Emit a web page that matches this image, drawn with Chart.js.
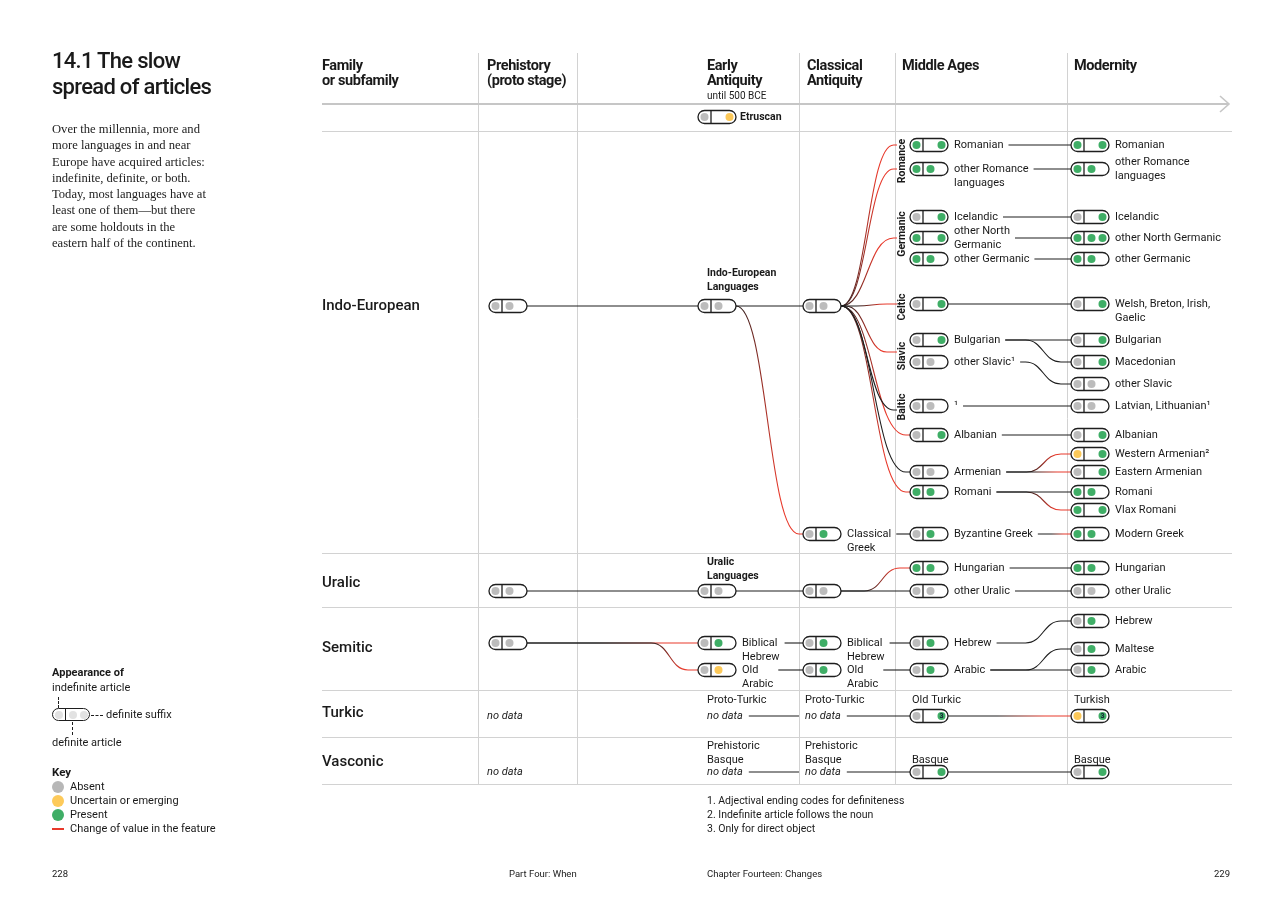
<!DOCTYPE html>
<html lang="en">
<head>
  <meta charset="UTF-8" />
  <title>14.1 The slow spread of articles</title>
  <script src="https://cdn.jsdelivr.net/npm/chart.js"></script>
  <style>
    html, body { margin: 0; padding: 0; background: #fff; }
    body {
      width: 1284px; height: 914px; position: relative; overflow: hidden;
      font-family: Roboto, 'Liberation Sans', sans-serif; color: #1a1a1a;
    }
    #chart { position: absolute; left: 0; top: 0; }
    .abs { position: absolute; white-space: nowrap; }
    h1 {
      position: absolute; left: 52px; top: 48px; margin: 0;
      font-size: 22px; line-height: 26px; font-weight: 500; letter-spacing: -0.7px;
    }
    #intro {
      left: 52px; top: 121px; font-family: 'Liberation Serif', serif;
      font-size: 12.6px; line-height: 16.3px; color: #222;
    }
    .small { font-size: 11px; line-height: 14px; }
    .bold { font-weight: 700; }
    .pill {
      position: absolute; width: 36px; height: 11px; border: 1.2px solid #1e1e1e;
      border-radius: 7px; background: #fff;
    }
    .pill .bar { position: absolute; left: 12px; top: 0; width: 1.2px; height: 11px; background: #1e1e1e; }
    .pill .dot { position: absolute; top: 1.5px; width: 8px; height: 8px; border-radius: 50%; background: #e2e2e2; }
    .dash { position: absolute; border-color: #1e1e1e; border-style: dashed; border-width: 0; }
    .key { position: absolute; width: 12px; height: 12px; border-radius: 50%; }
    .foot { font-size: 9.5px; }
  </style>
</head>
<body>
  <canvas id="chart" width="1284" height="914"></canvas>

  <h1>14.1 The slow<br>spread of articles</h1>
  <div id="intro" class="abs">
    Over the millennia, more and<br>
    more languages in and near<br>
    Europe have acquired articles:<br>
    indefinite, definite, or both.<br>
    Today, most languages have at<br>
    least one of them—but there<br>
    are some holdouts in the<br>
    eastern half of the continent.
  </div>

  <div class="abs small bold" style="left:52px;top:666px">Appearance of</div>
  <div class="abs small" style="left:52px;top:681px">indefinite article</div>
  <div class="dash" style="left:58px;top:697px;height:11px;border-left-width:1px"></div>
  <div class="pill" style="left:52px;top:708px">
    <span class="dot" style="left:1.5px"></span>
    <span class="bar"></span>
    <span class="dot" style="left:16px"></span>
    <span class="dot" style="left:26.5px"></span>
  </div>
  <div class="dash" style="left:91px;top:715px;width:12px;border-top-width:1px"></div>
  <div class="abs small" style="left:106px;top:708px">definite suffix</div>
  <div class="dash" style="left:72px;top:722px;height:13px;border-left-width:1px"></div>
  <div class="abs small" style="left:52px;top:736px">definite article</div>

  <div class="abs bold" style="left:52px;top:765px;font-size:11.5px">Key</div>
  <span class="key" style="left:52px;top:781px;background:#b7b7b7"></span>
  <div class="abs small" style="left:70px;top:780px">Absent</div>
  <span class="key" style="left:52px;top:795px;background:#fdca5a"></span>
  <div class="abs small" style="left:70px;top:794px">Uncertain or emerging</div>
  <span class="key" style="left:52px;top:809px;background:#3fae66"></span>
  <div class="abs small" style="left:70px;top:808px">Present</div>
  <div class="abs" style="left:52px;top:828px;width:12px;height:1.5px;background:#e8392b"></div>
  <div class="abs small" style="left:70px;top:822px">Change of value in the feature</div>

  <div class="abs small" style="left:707px;top:794px;font-size:10.5px">1. Adjectival ending codes for definiteness</div>
  <div class="abs small" style="left:707px;top:808px;font-size:10.5px">2. Indefinite article follows the noun</div>
  <div class="abs small" style="left:707px;top:822px;font-size:10.5px">3. Only for direct object</div>

  <div class="abs foot" style="left:52px;top:868px">228</div>
  <div class="abs foot" style="left:509px;top:868px">Part Four: When</div>
  <div class="abs foot" style="left:707px;top:868px">Chapter Fourteen: Changes</div>
  <div class="abs foot" style="left:1214px;top:868px">229</div>

  <script>
    // periods (columns) and families (row bands)
    const periods = ['Prehistory\n(proto stage)', 'Early\nAntiquity', 'Classical\nAntiquity', 'Middle Ages', 'Modernity'];
    const periodNote = ['', 'until 500 BCE', '', '', ''];
    const families = ['Indo-European', 'Uralic', 'Semitic', 'Turkic', 'Vasconic'];
    const familyRow = [306, 583, 648, 713, 762];
    const subgroups = ['Romance', 'Germanic', 'Celtic', 'Slavic', 'Baltic'];
    const subgroupRow = [161, 234, 307, 356, 407];

    // language stages: 0 absent, 1 uncertain/emerging, 2 present, null = slot not shown
    const nodeId = [
      'pIE', 'pUR', 'pSE', 'pTK', 'pBQ',
      'etr', 'eIE', 'eUR', 'eBH', 'eOA', 'eTK', 'eBQ',
      'cIE', 'cGR', 'cUR', 'cBH', 'cOA', 'cTK', 'cBQ',
      'mRO', 'mOR', 'mIS', 'mNG', 'mGE', 'mCE', 'mBU', 'mSL', 'mBA', 'mAL', 'mAR', 'mRI', 'mBY',
      'mHU', 'mOU', 'mHE', 'mAB', 'mTU', 'mBQ',
      'nRO', 'nOR', 'nIS', 'nNG', 'nGE', 'nCE', 'nBU', 'nMA', 'nSL', 'nBA', 'nAL', 'nWA', 'nEA',
      'nRI', 'nVR', 'nGR', 'nHU', 'nOU', 'nHE', 'nMT', 'nAB', 'nTU', 'nBQ'
    ];
    const nodeLabel = [
      '', '', '', '', '',
      'Etruscan', 'Indo-European\nLanguages', 'Uralic\nLanguages', 'Biblical\nHebrew', 'Old\nArabic', 'Proto-Turkic', 'Prehistoric\nBasque',
      '', 'Classical\nGreek', '', 'Biblical\nHebrew', 'Old\nArabic', 'Proto-Turkic', 'Prehistoric\nBasque',
      'Romanian', 'other Romance\nlanguages', 'Icelandic', 'other North\nGermanic', 'other Germanic', '', 'Bulgarian',
      'other Slavic¹', '¹', 'Albanian', 'Armenian', 'Romani', 'Byzantine Greek',
      'Hungarian', 'other Uralic', 'Hebrew', 'Arabic', 'Old Turkic', 'Basque',
      'Romanian', 'other Romance\nlanguages', 'Icelandic', 'other North Germanic', 'other Germanic',
      'Welsh, Breton, Irish,\nGaelic', 'Bulgarian', 'Macedonian', 'other Slavic', 'Latvian, Lithuanian¹', 'Albanian',
      'Western Armenian²', 'Eastern Armenian', 'Romani', 'Vlax Romani', 'Modern Greek', 'Hungarian', 'other Uralic',
      'Hebrew', 'Maltese', 'Arabic', 'Turkish', 'Basque'
    ];
    const nodePeriod = [
      0, 0, 0, 0, 0,
      1, 1, 1, 1, 1, 1, 1,
      2, 2, 2, 2, 2, 2, 2,
      3, 3, 3, 3, 3, 3, 3, 3, 3, 3, 3, 3, 3, 3, 3, 3, 3, 3, 3,
      4, 4, 4, 4, 4, 4, 4, 4, 4, 4, 4, 4, 4, 4, 4, 4, 4, 4, 4, 4, 4, 4, 4
    ];
    const nodeRow = [
      306, 591, 643, 716, 772,
      117, 306, 591, 643, 670, 716, 772,
      306, 534, 591, 643, 670, 716, 772,
      145, 169, 217, 238, 259, 304, 340, 362, 406, 435, 472, 492, 534, 568, 591, 643, 670, 716, 772,
      145, 169, 217, 238, 259, 304, 340, 362, 384, 406, 435, 454, 472, 492, 510, 534, 568, 591, 621, 649, 670, 716, 772
    ];
    const indefinite = [
      0, 0, 0, null, null,
      0, 0, 0, 0, 0, null, null,
      0, 0, 0, 0, 0, null, null,
      2, 2, 0, 2, 2, 0, 0, 0, 0, 0, 0, 2, 0, 2, 0, 0, 0, 0, 0,
      2, 2, 0, 2, 2, 0, 0, 0, 0, 0, 0, 1, 0, 2, 2, 2, 2, 0, 0, 0, 0, 1, 0
    ];
    const definite = [
      0, 0, 0, null, null,
      null, 0, 0, 2, 1, null, null,
      0, 2, 0, 2, 2, null, null,
      null, 2, null, null, 2, null, null, 0, 0, null, 0, 2, 2, 2, 0, 2, 2, null, null,
      null, 2, null, 2, 2, null, null, null, 0, 0, null, null, null, 2, null, 2, 2, 0, 2, 2, 2, null, null
    ];
    const suffix = [
      null, null, null, null, null,
      1, null, null, null, null, null, null,
      null, null, null, null, null, null, null,
      2, null, 2, 2, null, 2, 2, null, null, 2, null, null, null, null, null, null, null, 2, 2,
      2, null, 2, 2, null, 2, 2, 2, null, null, 2, 2, 2, null, 2, null, null, null, null, null, null, 2, 2
    ];
    const suffixNote = { mTU: '3', nTU: '3' };

    // descent lines between stages: [from, to, feature changed]
    const links = [
      ['pIE', 'eIE', 0], ['eIE', 'cIE', 0], ['eIE', 'cGR', 1],
      ['cIE', 'mAL', 1], ['cIE', 'mAR', 0], ['cIE', 'mRI', 1], ['cGR', 'mBY', 0],
      ['mRO', 'nRO', 0], ['mOR', 'nOR', 0], ['mIS', 'nIS', 0], ['mNG', 'nNG', 0], ['mGE', 'nGE', 0],
      ['mCE', 'nCE', 0], ['mBU', 'nBU', 0], ['mBU', 'nMA', 0], ['mSL', 'nSL', 0], ['mBA', 'nBA', 0],
      ['mAL', 'nAL', 0], ['mAR', 'nWA', 1], ['mAR', 'nEA', 1], ['mRI', 'nRI', 0], ['mRI', 'nVR', 1],
      ['mBY', 'nGR', 1],
      ['pUR', 'eUR', 0], ['eUR', 'cUR', 0], ['cUR', 'mHU', 1], ['cUR', 'mOU', 0],
      ['mHU', 'nHU', 0], ['mOU', 'nOU', 0],
      ['pSE', 'eBH', 1], ['pSE', 'eOA', 1], ['eBH', 'cBH', 0], ['eOA', 'cOA', 0],
      ['cBH', 'mHE', 0], ['cOA', 'mAB', 0], ['mHE', 'nHE', 0], ['mAB', 'nMT', 0], ['mAB', 'nAB', 0],
      ['eTK', 'cTK', 0], ['cTK', 'mTU', 0], ['mTU', 'nTU', 1],
      ['eBQ', 'cBQ', 0], ['cBQ', 'mBQ', 0], ['mBQ', 'nBQ', 0]
    ];
    // Indo-European branches into subgroup labels
    const fanGroup = [0, 0, 1, 2, 3, 4];
    const fanRow = [145, 169, 238, 304, 352, 410];
    const fanChanged = [1, 1, 1, 1, 1, 0];

    // ---- layout (page units) ----
    const COL_LEFT = [489, 698, 803, 910, 1071];
    const COL_TEXT = [487, 707, 805, 912, 1074];
    const HEAD_X = [487, 707, 807, 902, 1074];
    const COL_RULES = [478, 577, 799, 895, 1067];
    const ROW_RULES = [131, 553, 607, 690, 737, 784];
    const GRID = { left: 322, right: 1232, top: 53, axis: 104, bottom: 784 };
    const PILL = { w: 38, h: 13, bar: 13, slots: [6.5, 20.5, 31.5], r: 4 };
    const DOT = ['#bcbcbc', '#fcc858', '#3fae66'];
    const INK = '#1e1e1e';
    const RED = '#e8392b';
    const FONT = "Roboto, 'Liberation Sans', sans-serif";
    const ABOVE = { eIE: 19, eUR: 15, mTU: 16, nTU: 16, mBQ: 12, nBQ: 12, eTK: 16, cTK: 16, eBQ: 12, cBQ: 12 };
    const CENTRED = ['mNG', 'nOR'];
    const BOLD = ['etr', 'eIE', 'eUR'];

    const idx = id => nodeId.indexOf(id);
    const hasPill = i => indefinite[i] !== null;
    const lines = i => nodeLabel[i] ? nodeLabel[i].split('\n') : [];

    function labelFont(i) {
      return BOLD.includes(nodeId[i]) ? `bold 10.5px ${FONT}` : `11px ${FONT}`;
    }

    function pillPath(ctx, x, y, w, h) {
      const r = h / 2;
      ctx.beginPath();
      ctx.moveTo(x + r, y);
      ctx.lineTo(x + w - r, y);
      ctx.arc(x + w - r, y + r, r, -Math.PI / 2, Math.PI / 2);
      ctx.lineTo(x + r, y + h);
      ctx.arc(x + r, y + r, r, Math.PI / 2, Math.PI * 1.5);
      ctx.closePath();
    }

    function drawPill(ctx, x, y, i) {
      const top = y - PILL.h / 2;
      pillPath(ctx, x, top, PILL.w, PILL.h);
      ctx.fillStyle = '#fff';
      ctx.fill();
      ctx.lineWidth = 1.3;
      ctx.strokeStyle = INK;
      ctx.stroke();
      ctx.beginPath();
      ctx.moveTo(x + PILL.bar, top);
      ctx.lineTo(x + PILL.bar, top + PILL.h);
      ctx.stroke();
      [indefinite[i], definite[i], suffix[i]].forEach((v, s) => {
        if (v === null) return;
        ctx.beginPath();
        ctx.arc(x + PILL.slots[s], y, PILL.r, 0, Math.PI * 2);
        ctx.fillStyle = DOT[v];
        ctx.fill();
      });
      const note = suffixNote[nodeId[i]];
      if (note) {
        ctx.fillStyle = '#123';
        ctx.font = `bold 7px ${FONT}`;
        ctx.textAlign = 'center';
        ctx.textBaseline = 'middle';
        ctx.fillText(note, x + PILL.slots[2], y + 0.5);
      }
    }

    // where a node's label block sits
    function labelBox(ctx, i, p) {
      const ls = lines(i);
      const id = nodeId[i];
      ctx.font = labelFont(i);
      const w = ls.length ? Math.max(...ls.map(l => ctx.measureText(l).width)) : 0;
      if (!hasPill(i) || ABOVE[id] !== undefined) {
        return { x: p.colText, y0: p.y - ABOVE[id] - (ls.length - 1) * 14, w, ls, above: true };
      }
      const x = p.x + PILL.w + (BOLD.includes(id) ? 4 : 6);
      const y0 = CENTRED.includes(id) ? p.y - 7 * (ls.length - 1) : p.y;
      return { x, y0, w, ls, above: false };
    }

    function linkStart(ctx, i, p) {
      if (!hasPill(i)) {
        ctx.font = `italic 11px ${FONT}`;
        return p.colText + ctx.measureText('no data').width + 6;
      }
      const b = labelBox(ctx, i, p);
      if (b.above || !b.ls.length) return p.x + PILL.w;
      return b.x + b.w + 5;
    }

    function linkEnd(i, p) {
      return hasPill(i) ? p.x : p.colText - 6;
    }

    function drawLink(ctx, sx, sy, tx, ty, changed) {
      const dy = Math.abs(ty - sy);
      const avail = tx - sx;
      let cw = dy ? 30 + dy * 0.25 : 0;
      let tail = 10;
      if (cw + tail > avail) { tail = Math.max(1, avail * 0.06); cw = avail - tail; }
      const x1 = tx - tail;
      const x0 = x1 - cw;
      ctx.beginPath();
      ctx.moveTo(sx, sy);
      if (dy) {
        ctx.lineTo(x0, sy);
        ctx.bezierCurveTo(x0 + cw * 0.5, sy, x1 - cw * 0.5, ty, x1, ty);
      }
      ctx.lineTo(tx, ty);
      if (changed) {
        const gx = dy ? x0 : sx + avail * 0.4;
        const g = ctx.createLinearGradient(gx, 0, tx, 0);
        g.addColorStop(0, INK);
        g.addColorStop(0.65, RED);
        g.addColorStop(1, RED);
        ctx.strokeStyle = g;
      } else {
        ctx.strokeStyle = INK;
      }
      ctx.lineWidth = 1.1;
      ctx.stroke();
    }

    const pagePlugin = {
      id: 'page',
      beforeDatasetsDraw(chart) {
        const { ctx, scales: { x, y } } = chart;
        const px = v => x.getPixelForValue(v);
        const py = v => y.getPixelForValue(v);
        ctx.save();

        // grid
        ctx.strokeStyle = '#d2d2d2';
        ctx.lineWidth = 1;
        COL_RULES.forEach(c => {
          ctx.beginPath();
          ctx.moveTo(px(c) + 0.5, py(GRID.top));
          ctx.lineTo(px(c) + 0.5, py(GRID.bottom));
          ctx.stroke();
        });
        ROW_RULES.forEach(r => {
          ctx.beginPath();
          ctx.moveTo(px(GRID.left), py(r) + 0.5);
          ctx.lineTo(px(GRID.right), py(r) + 0.5);
          ctx.stroke();
        });
        ctx.strokeStyle = '#c6c6c6';
        ctx.lineWidth = 2.2;
        ctx.beginPath();
        ctx.moveTo(px(GRID.left), py(GRID.axis));
        ctx.lineTo(px(GRID.right - 4), py(GRID.axis));
        ctx.stroke();
        ctx.lineWidth = 1.6;
        ctx.beginPath();
        ctx.moveTo(px(GRID.right - 12), py(GRID.axis - 8));
        ctx.lineTo(px(GRID.right - 3), py(GRID.axis));
        ctx.lineTo(px(GRID.right - 12), py(GRID.axis + 8));
        ctx.stroke();

        // column headers
        ctx.fillStyle = '#1a1a1a';
        ctx.textAlign = 'left';
        ctx.textBaseline = 'alphabetic';
        ctx.font = `bold 14.5px ${FONT}`;
        ctx.letterSpacing = '-0.4px';
        ['Family', 'or subfamily'].forEach((t, k) => ctx.fillText(t, px(GRID.left), py(70 + k * 15)));
        periods.forEach((label, c) => {
          label.split('\n').forEach((t, k) => ctx.fillText(t, px(HEAD_X[c]), py(70 + k * 15)));
        });
        ctx.letterSpacing = '0px';
        ctx.font = `10px ${FONT}`;
        periodNote.forEach((t, c) => { if (t) ctx.fillText(t, px(HEAD_X[c]), py(99)); });

        // family names
        ctx.font = `500 15px ${FONT}`;
        ctx.textBaseline = 'middle';
        families.forEach((f, k) => ctx.fillText(f, px(GRID.left), py(familyRow[k])));

        // subgroup labels (vertical)
        ctx.font = `bold 10.5px ${FONT}`;
        ctx.textAlign = 'center';
        subgroups.forEach((g, k) => {
          ctx.save();
          ctx.translate(px(COL_RULES[3] + 7), py(subgroupRow[k]));
          ctx.rotate(-Math.PI / 2);
          ctx.fillText(g, 0, 0);
          ctx.restore();
        });

        // descent lines
        const pts = chart.getDatasetMeta(0).data;
        const pos = i => ({ x: pts[i].x, y: pts[i].y, colText: px(COL_TEXT[nodePeriod[i]]) });
        links.forEach(([a, b, ch]) => {
          const i = idx(a), j = idx(b);
          const pa = pos(i), pb = pos(j);
          drawLink(ctx, linkStart(ctx, i, pa), pa.y, linkEnd(j, pb), pb.y, ch);
        });
        const src = idx('cIE');
        const ps = pos(src);
        fanRow.forEach((r, k) => {
          drawLink(ctx, linkStart(ctx, src, ps), ps.y, px(COL_RULES[3] + 2), py(r), fanChanged[k]);
        });
        ctx.restore();
      },
      afterDatasetsDraw(chart) {
        const { ctx, scales: { x } } = chart;
        const pts = chart.getDatasetMeta(0).data;
        ctx.save();
        nodeId.forEach((id, i) => {
          const p = { x: pts[i].x, y: pts[i].y, colText: x.getPixelForValue(COL_TEXT[nodePeriod[i]]) };
          if (hasPill(i)) drawPill(ctx, p.x, p.y, i);
          const b = labelBox(ctx, i, p);
          ctx.fillStyle = '#1a1a1a';
          ctx.textAlign = 'left';
          ctx.textBaseline = 'middle';
          ctx.font = labelFont(i);
          b.ls.forEach((t, k) => ctx.fillText(t, b.x, b.y0 + k * 14));
          if (!hasPill(i)) {
            ctx.font = `italic 11px ${FONT}`;
            ctx.fillText('no data', p.colText, p.y);
          }
        });
        ctx.restore();
      }
    };

    new Chart(document.getElementById('chart'), {
      type: 'scatter',
      data: {
        datasets: [{
          data: nodeId.map((id, i) => ({ x: COL_LEFT[nodePeriod[i]], y: nodeRow[i] })),
          pointRadius: 0,
          pointHoverRadius: 0
        }]
      },
      options: {
        responsive: false,
        animation: false,
        events: [],
        layout: { padding: 0 },
        plugins: { legend: { display: false }, tooltip: { enabled: false } },
        scales: {
          x: { type: 'linear', min: 0, max: 1284, display: false },
          y: { type: 'linear', min: 0, max: 914, reverse: true, display: false }
        }
      },
      plugins: [pagePlugin]
    });
  </script>
</body>
</html>
